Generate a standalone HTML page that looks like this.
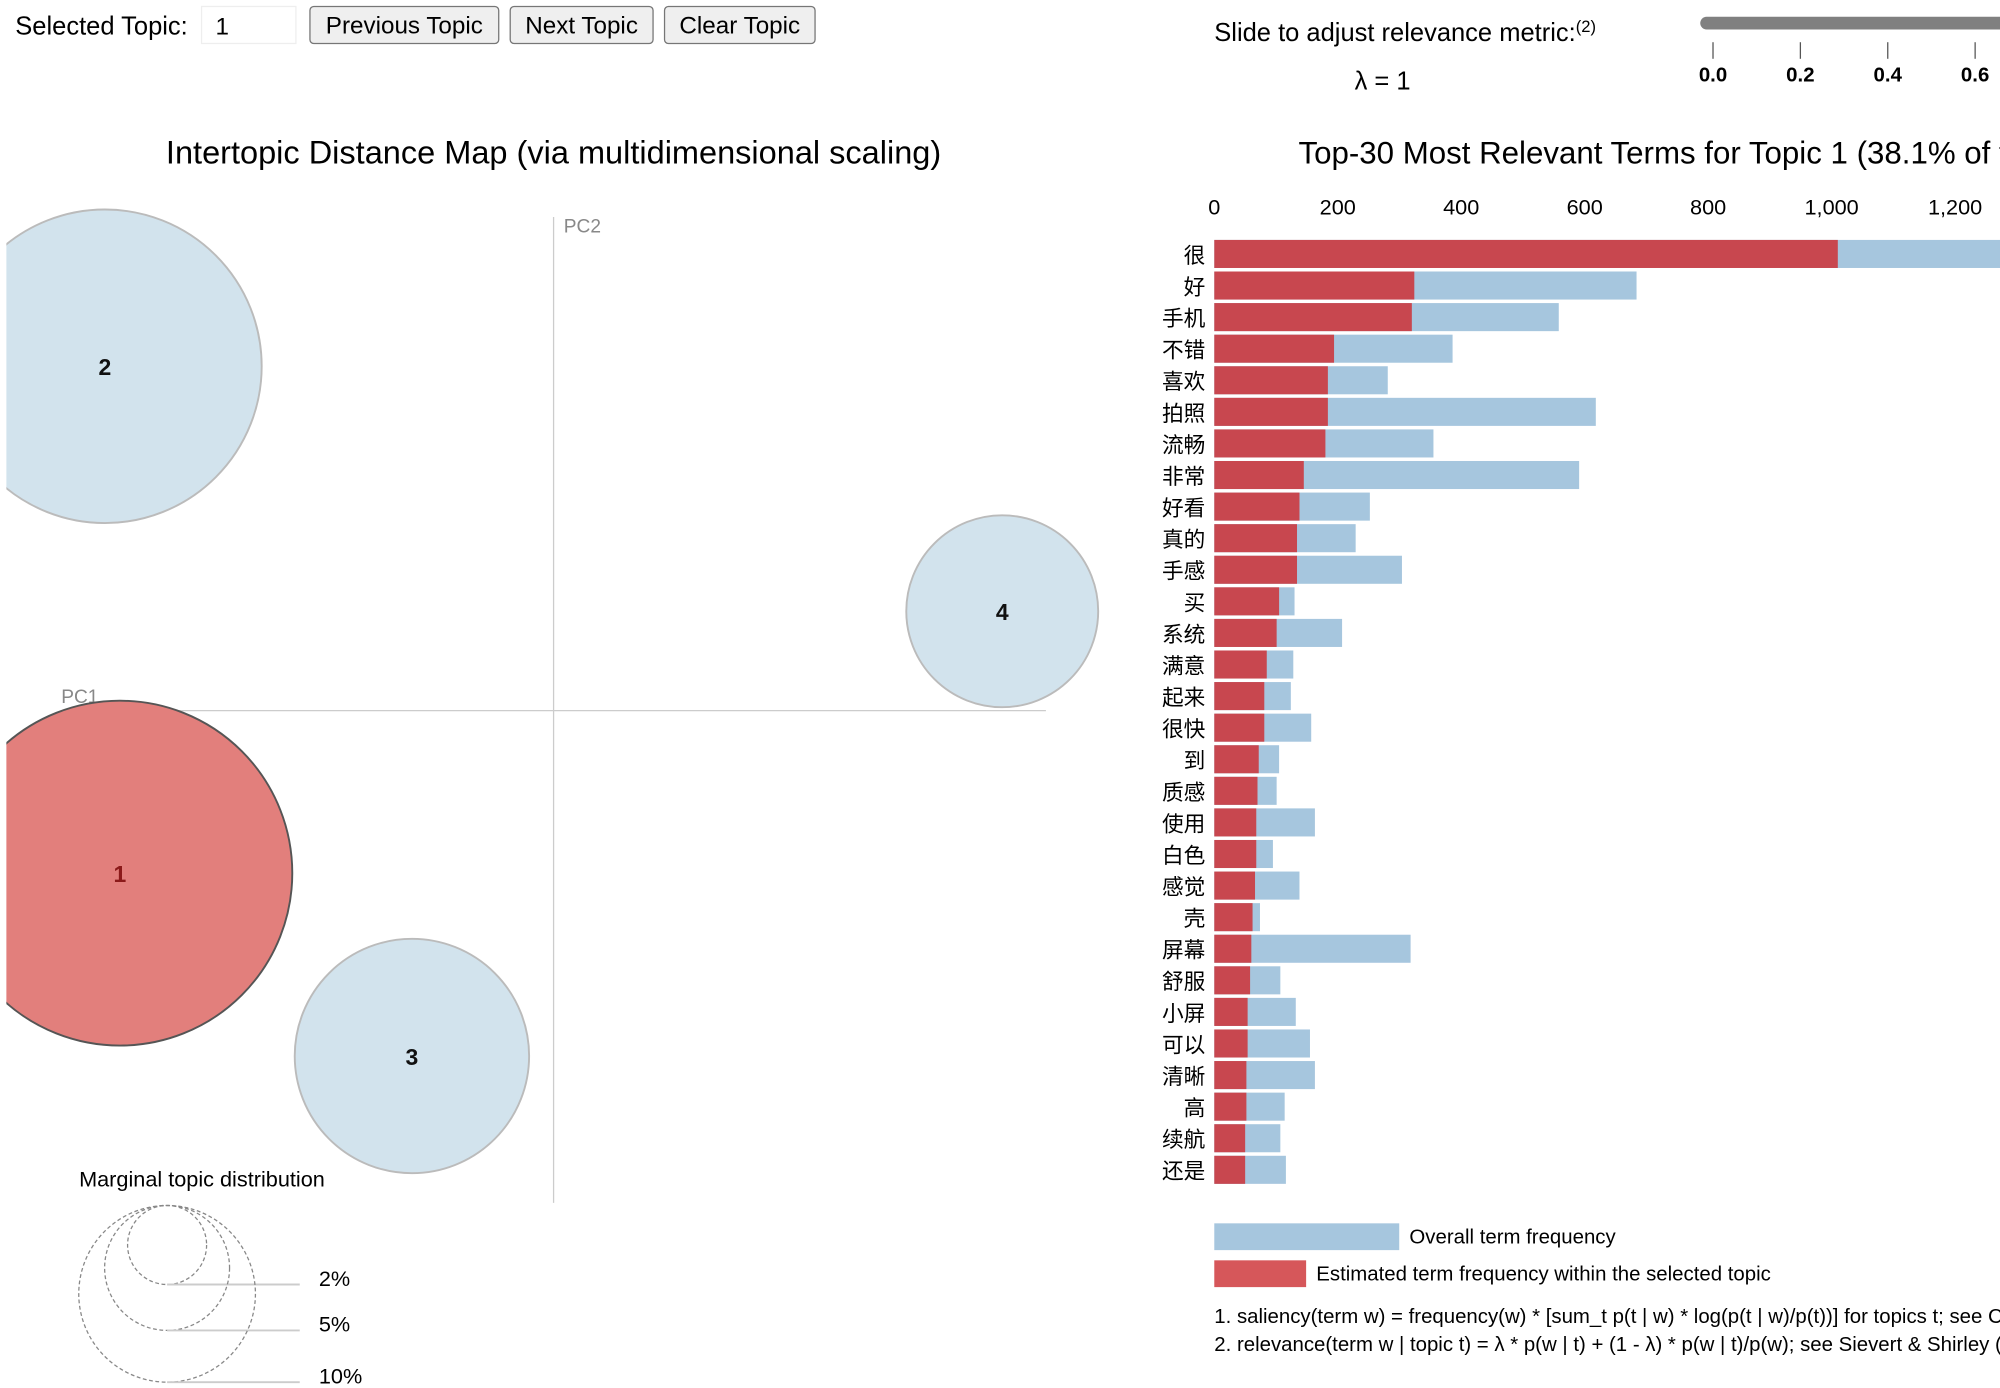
<!DOCTYPE html>
<html><head><meta charset="utf-8"><style>
html,body{margin:0;padding:0;background:#fff;overflow:hidden}
svg{display:block;font-family:"Liberation Sans","Noto Sans CJK SC",sans-serif}
</style></head><body>
<svg id="root" width="2000" height="1388" viewBox="0 0 1568 1088" xmlns="http://www.w3.org/2000/svg">
<g>
<text x="12" y="27" font-size="20" fill="#000">Selected Topic:</text>
<rect x="158" y="5" width="74" height="29" fill="#fff" stroke="#eee"/>
<text x="169" y="27" font-size="19">1</text>
<rect x="243" y="5" width="148" height="29" rx="3" fill="#efefef" stroke="#767676"/>
<text x="317" y="26" font-size="19" text-anchor="middle">Previous Topic</text>
<rect x="400" y="5" width="112" height="29" rx="3" fill="#efefef" stroke="#767676"/>
<text x="456" y="26" font-size="19" text-anchor="middle">Next Topic</text>
<rect x="521" y="5" width="118" height="29" rx="3" fill="#efefef" stroke="#767676"/>
<text x="580" y="26" font-size="19" text-anchor="middle">Clear Topic</text>
</g>
<g>
<text x="952" y="32" font-size="20">Slide to adjust relevance metric:<tspan font-size="13" dy="-7">(2)</tspan></text>
<text x="1062" y="70" font-size="20">λ = 1</text>
<rect x="1333" y="13" width="250" height="10" rx="5" fill="#808080"/>
<g id="sliderTicks"></g>
</g>
<text x="434" y="128" font-size="25.5" text-anchor="middle">Intertopic Distance Map (via multidimensional scaling)</text>
<text x="1018" y="128" font-size="24.5">Top-30 Most Relevant Terms for Topic 1 (38.1% of tokens)</text>
<defs><clipPath id="mapclip"><rect x="5" y="140" width="900" height="820"/></clipPath></defs>
<g>
<line x1="434" y1="170" x2="434" y2="943" stroke="#ccc"/>
<line x1="50" y1="557" x2="820" y2="557" stroke="#ccc"/>
<text x="442" y="182" font-size="15" fill="#888">PC2</text>
<text x="48" y="551" font-size="15" fill="#888">PC1</text>
<g id="circles" clip-path="url(#mapclip)"></g>
</g>
<g>
<text x="62" y="930" font-size="17">Marginal topic distribution</text>
<g id="marg"></g>
</g>
<g id="bars"></g>
<g>
<rect x="952" y="959" width="145" height="21" fill="#a6c6de"/>
<text x="1105" y="975" font-size="16">Overall term frequency</text>
<rect x="952" y="988" width="72" height="21" fill="#d6575a"/>
<text x="1032" y="1004" font-size="16">Estimated term frequency within the selected topic</text>
<text x="952" y="1037" font-size="16">1. saliency(term w) = frequency(w) * [sum_t p(t | w) * log(p(t | w)/p(t))] for topics t; see Chuang et. al (2012)</text>
<text x="952" y="1059" font-size="16">2. relevance(term w | topic t) = λ * p(w | t) + (1 - λ) * p(w | t)/p(w); see Sievert &amp; Shirley (2014)</text>
</g>
</svg>
<script>
const terms=["很","好","手机","不错","喜欢","拍照","流畅","非常","好看","真的","手感","买","系统","满意","起来","很快","到","质感","使用","白色","感觉","壳","屏幕","舒服","小屏","可以","清晰","高","续航","还是"];
const topicFreq=[1010,324,320,194,184,184,180,145,138,134,134,105,101,85,81,81,72,70,68,68,66,62,60,58,54,54,52,52,50,50];
const totalFreq=[1350,684,558,386,281,618,355,591,252,229,304,130,207,128,124,157,105,101,163,95,138,74,318,107,132,155,163,114,107,116];
const xTicks=[0,200,400,600,800,1000,1200];
const xTickLabels=["0","200","400","600","800","1,000","1,200"];
const sliderTicks=[0.0,0.2,0.4,0.6];
const topicIds=[1,2,3,4];
const topicX=[-0.203,-0.21,-0.0663,0.21];
const topicY=[-0.072,0.1525,-0.153,0.044];
const topicPct=[38.1,31.5,17.6,11.8];
const margPct=[2,5,10];
const NS="http://www.w3.org/2000/svg";
function mk(t,a,p){const e=document.createElementNS(NS,t);for(const k in a)e.setAttribute(k,a[k]);p.appendChild(e);return e;}
const X=v=>952+v*0.484;
const Y=i=>188+i*24.76;
const bars=document.getElementById('bars');
xTicks.forEach((t,i)=>{const e=mk('text',{x:X(t),y:168,'font-size':17,'text-anchor':'middle'},bars);e.textContent=xTickLabels[i];

});
terms.forEach((t,i)=>{
const b=mk('rect',{x:952,y:Y(i),width:X(totalFreq[i])-952,height:22,fill:'#a6c6de'},bars);


const r=mk('rect',{x:952,y:Y(i),width:X(topicFreq[i])-952,height:22,fill:'#c8474f'},bars);


const l=mk('text',{x:945,y:Y(i)+18,'font-size':17,'text-anchor':'end'},bars);l.textContent=t;


});
const st=document.getElementById('sliderTicks');
sliderTicks.forEach(v=>{const x=1343+v*342.5;
const ln=mk('line',{x1:x,y1:33,x2:x,y2:46,stroke:'#555'},st);


const tx=mk('text',{x:x,y:64,'font-size':16,'font-weight':'bold','text-anchor':'middle'},st);tx.textContent=v.toFixed(1);

});
const MX=v=>434+v*1675, MY=v=>557-v*1770;
const R=p=>Math.sqrt(p)*21.9;
const cg=document.getElementById('circles');
topicIds.forEach((id,i)=>{const sel=id===1;
const c=mk('circle',{cx:MX(topicX[i]),cy:MY(topicY[i]),r:R(topicPct[i]),fill:sel?'#e27f7c':'#d2e3ed',stroke:sel?'#555':'#bbb','stroke-width':1.5},cg);


const t=mk('text',{x:MX(topicX[i]),y:MY(topicY[i])+7,'font-size':18,'font-weight':'bold','text-anchor':'middle',fill:sel?'#8b1a1a':'#111'},cg);t.textContent=id;

});
const mg=document.getElementById('marg');
margPct.forEach((p,i)=>{const r=Math.sqrt(p)*21.9;const cy=945+r;
const c=mk('circle',{cx:131,cy:cy,r:r,fill:'none',stroke:'#888','stroke-dasharray':'3,2'},mg);


const l=mk('line',{x1:131,y1:cy+r,x2:235,y2:cy+r,stroke:'#ccc','stroke-width':1.5},mg);


const t=mk('text',{x:250,y:cy+r+1,'font-size':17},mg);t.textContent=p+'%';

});
</script>
</body></html>
